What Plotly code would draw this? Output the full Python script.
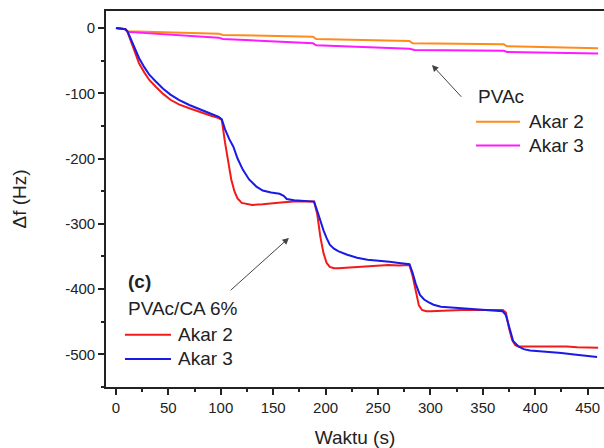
import plotly.graph_objects as go

# PVAc/CA 6%
t_ca2 = [0,5,9,11,14,18,22,27,32,38,45,52,60,70,80,90,98,101,104,107,110,113,116,120,125,130,140,150,160,170,180,189,192,195,198,201,204,208,212,220,230,240,250,260,270,280,283,286,289,292,296,300,310,320,330,340,350,360,369,372,375,378,381,384,390,400,410,420,430,440,450,460]
v_ca2 = [0,-1,-2,-6,-20,-38,-54,-68,-80,-90,-101,-110,-117,-123,-129,-134,-138,-141,-175,-207,-232,-250,-261,-268,-270,-271,-270,-268,-267,-266,-266,-266,-285,-320,-345,-360,-366,-368,-368,-367,-366,-365,-364,-363,-364,-363,-380,-405,-425,-432,-434,-434,-433,-432,-432,-432,-432,-432,-432,-436,-460,-478,-486,-488,-488,-487,-488,-487,-488,-489,-489,-490]

t_ca3 = [0,5,9,11,14,18,22,27,32,38,45,52,60,70,80,90,98,101,104,108,112,116,121,127,134,140,148,156,160,163,170,180,189,192,195,198,201,204,208,212,220,230,240,250,261,270,280,283,286,290,294,298,303,310,320,331,340,350,360,369,372,375,379,384,389,395,405,417,425,435,443,450,459]
v_ca3 = [0,-1,-2,-5,-16,-32,-46,-60,-72,-82,-93,-102,-110,-118,-125,-131,-136,-140,-155,-170,-182,-200,-217,-232,-243,-249,-252,-254,-257,-262,-264,-265,-266,-280,-296,-310,-322,-332,-338,-342,-347,-352,-355,-356,-358,-360,-362,-375,-392,-409,-416,-420,-424,-427,-428,-430,-430,-431,-432,-434,-440,-458,-480,-488,-492,-494,-495,-497,-498,-500,-501,-503,-504]

# PVAc
t_p2 = [0,5,9,11,30,60,98,102,130,160,188,191,220,250,280,283,310,340,370,373,400,430,460]
v_p2 = [0,-1,-2,-5,-6,-7,-8.7,-10.7,-11.5,-12.5,-13.3,-16.8,-18,-19,-20,-23.5,-24,-24.5,-25,-28,-29,-30,-31]
t_p3 = [0,5,9,11,30,60,98,102,130,160,188,191,220,250,280,285,310,340,370,373,400,430,460]
v_p3 = [0,-1,-2,-6,-8,-11,-14.8,-16.8,-19,-21.5,-23.5,-26.5,-28.5,-30,-31.7,-33.7,-34,-34.5,-35,-36.7,-37.5,-38,-39]

x_ticks = [0,50,100,150,200,250,300,350,400,450]
y_ticks = [0,-100,-200,-300,-400,-500]
y_ticktext = ["0","-100","-200","-300","-400","-500"]

RED = "#f21b1b"
BLUE = "#1a1ae6"
ORANGE = "#ff8c1a"
MAGENTA = "#ff1aff"
INK = "#222222"
FONT = "Liberation Sans, Arial, sans-serif"

fig = go.Figure()
for t, v, c in [(t_p2, v_p2, ORANGE), (t_p3, v_p3, MAGENTA), (t_ca2, v_ca2, RED), (t_ca3, v_ca3, BLUE)]:
    fig.add_trace(go.Scatter(x=t, y=v, mode="lines", line=dict(color=c, width=2), showlegend=False))

axis_common = dict(showline=True, linecolor=INK, linewidth=1.6, ticks="outside", ticklen=6,
                   tickwidth=1.5, tickcolor=INK, showgrid=False, zeroline=False,
                   tickfont=dict(family=FONT, size=15, color=INK))

fig.update_layout(
    width=604, height=448,
    margin=dict(l=106, r=0, t=11, b=61),
    paper_bgcolor="white", plot_bgcolor="white",
    font=dict(family=FONT, color=INK),
    xaxis=dict(range=[-9.5, 465.6], tickvals=x_ticks, mirror=True,
               title=dict(text="Waktu (s)", font=dict(family=FONT, size=19, color=INK), standoff=16),
               minor=dict(ticks="outside", ticklen=3, tickwidth=1.5, tickcolor=INK, dtick=25, tick0=25, showgrid=False),
               **axis_common),
    yaxis=dict(range=[-550, 26], tickvals=y_ticks, ticktext=y_ticktext,
               title=dict(text="Δf (Hz)", font=dict(family=FONT, size=19, color=INK), standoff=34),
               minor=dict(ticks="outside", ticklen=3, tickwidth=1.5, tickcolor=INK, dtick=50, tick0=-550, showgrid=False),
               **axis_common),
)

# legend-like lines
for x0, x1, y, c in [(8.6, 52.5, -470, RED), (8.6, 52.5, -507, BLUE), (343.5, 385.5, -143.5, ORANGE), (343.5, 385.5, -180, MAGENTA)]:
    fig.add_shape(type="line", xref="x", yref="y", x0=x0, x1=x1, y0=y, y1=y, line=dict(color=c, width=2))

texts = [
    ("<b>(c)</b>", 9.5, -389),
    ("PVAc/CA 6%", 9.5, -430),
    ("Akar 2", 57.3, -470),
    ("Akar 3", 57.3, -507),
    ("PVAc", 343.5, -105),
    ("Akar 2", 392, -143.5),
    ("Akar 3", 392, -180),
]
for txt, x, y in texts:
    fig.add_annotation(text=txt, x=x, y=y, xref="x", yref="y", showarrow=False,
                       xanchor="left", yanchor="middle", font=dict(family=FONT, size=19, color=INK))

# arrows
for hx, hy, tx, ty in [(301.5, -56.7, 330.8, -107.7), (165, -321.6, 108, -403.8)]:
    fig.add_annotation(x=hx, y=hy, ax=tx, ay=ty, xref="x", yref="y", axref="x", ayref="y",
                       text="", showarrow=True, arrowhead=2, arrowsize=1.3, arrowwidth=1,
                       arrowcolor="#444444")

fig.write_html("out.html")
